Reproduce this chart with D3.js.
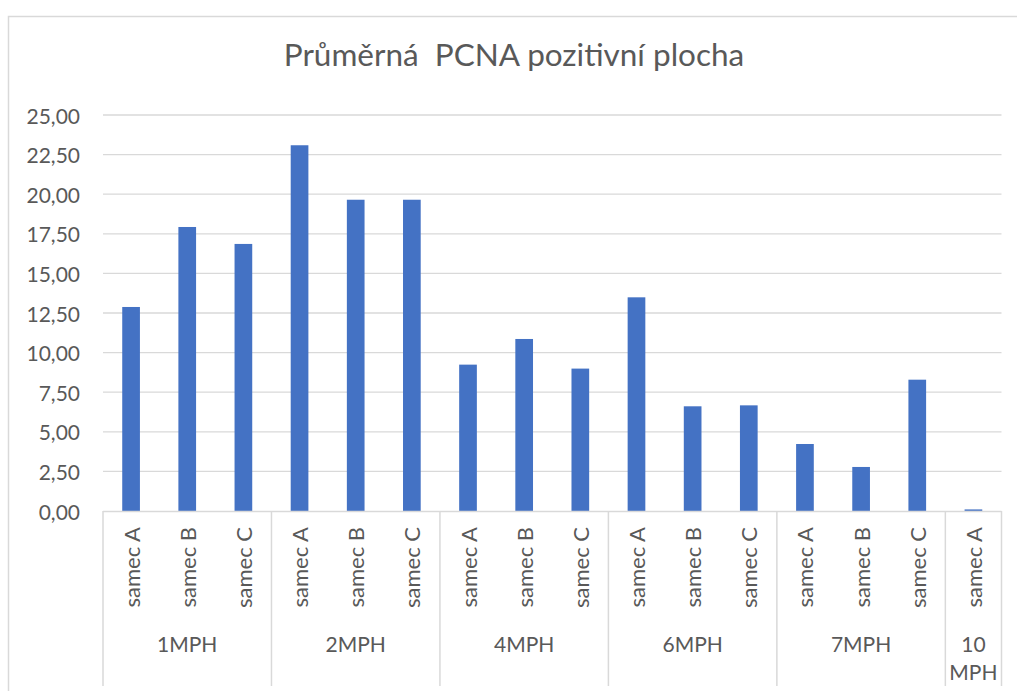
<!DOCTYPE html>
<html><head><meta charset="utf-8">
<script src="https://cdn.jsdelivr.net/npm/d3@7"></script>
<style>
html,body{margin:0;padding:0;background:#fff;}
text{font-family:Lato,"Open Sans",sans-serif;fill:#595959;}
</style></head>
<body>
<svg id="chart" width="1017" height="691"></svg>
<script>
const title = "Průměrná  PCNA pozitivní plocha";
const groups = ["1MPH","2MPH","4MPH","6MPH","7MPH","10 MPH"];
const groupSizes = [3,3,3,3,3,1];
const samples = ["samec A","samec B","samec C","samec A","samec B","samec C","samec A","samec B","samec C","samec A","samec B","samec C","samec A","samec B","samec C","samec A"];
const values = [12.88,17.93,16.86,23.09,19.65,19.65,9.24,10.86,8.99,13.49,6.61,6.67,4.23,2.78,8.29,0.10];
const yTicks = [0,2.5,5,7.5,10,12.5,15,17.5,20,22.5,25];

(function(){
const svg = d3.select("#chart");
const pL = 103, pR = 1001.5, pT = 115, pB = 511;
const axisBottom = 686;

// outer border
svg.append("rect").attr("x",8.5).attr("y",16.5).attr("width",1100).attr("height",800)
  .attr("fill","none").attr("stroke","#d9d9d9").attr("stroke-width",1.5);

const idx = d3.range(values.length);
const x = d3.scaleBand().domain(idx).range([pL,pR]).paddingInner(0.685).paddingOuter(0.3425);
const y = d3.scaleLinear().domain([0,25]).range([pB,pT]);

// gridlines
svg.append("g").selectAll("line").data(yTicks.slice(1)).join("line")
  .attr("x1",pL).attr("x2",pR).attr("y1",d=>y(d)).attr("y2",d=>y(d))
  .attr("stroke","#d9d9d9").attr("stroke-width",1.3);

// y labels
const fmt = d => d.toFixed(2).replace(".",",");
svg.append("g").selectAll("text").data(yTicks).join("text")
  .attr("x",80).attr("y",d=>y(d)).attr("text-anchor","end").attr("dominant-baseline","central")
  .style("font-size","21px").text(fmt);

// bars
svg.append("g").selectAll("rect").data(idx).join("rect")
  .attr("x",i=>x(i)).attr("width",x.bandwidth())
  .attr("y",i=>y(values[i])).attr("height",i=>y(0)-y(values[i]))
  .attr("fill","#4472c4");

// category axis line
svg.append("line").attr("x1",pL).attr("x2",pR).attr("y1",pB+0.5).attr("y2",pB+0.5)
  .attr("stroke","#d9d9d9").attr("stroke-width",1.5);

// group boundaries
let starts = [0];
groupSizes.forEach((s,i)=>starts.push(starts[i]+s));
const step = x.step();
const bx = k => pL + k*step;
svg.append("g").selectAll("line").data(starts).join("line")
  .attr("x1",k=>bx(k)).attr("x2",k=>bx(k)).attr("y1",pB).attr("y2",axisBottom)
  .attr("stroke","#d9d9d9").attr("stroke-width",1.5);

// sample labels
svg.append("g").selectAll("text").data(idx).join("text")
  .attr("transform",i=>`translate(${x(i)+x.bandwidth()/2},527) rotate(-90)`)
  .attr("text-anchor","end").attr("dominant-baseline","central")
  .style("font-size","22px").text(i=>samples[i]);

// group labels
groups.forEach((g,i)=>{
  const cx = (bx(starts[i])+bx(starts[i+1]))/2;
  const lines = groupSizes[i]===1 ? g.split(" ") : [g];
  lines.forEach((ln,j)=>{
    svg.append("text").attr("x",cx).attr("y",643+j*28).attr("text-anchor","middle")
      .attr("dominant-baseline","central").style("font-size","21px").text(ln);
  });
});

// title
svg.append("text").attr("x",514).attr("y",66).attr("text-anchor","middle")
  .attr("xml:space","preserve").style("white-space","pre")
  .style("font-size","31.5px").text(title);
})();
</script>
</body></html>
